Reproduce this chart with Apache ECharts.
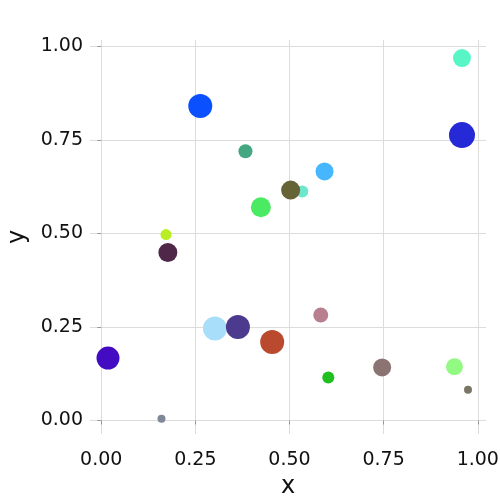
<!DOCTYPE html>
<html><head><meta charset="utf-8">
<script src="https://cdn.jsdelivr.net/npm/echarts@6/dist/echarts.min.js"></script>
<style>html,body{margin:0;padding:0;background:#fff}#c{width:500px;height:500px}</style>
</head><body><div id="c"></div>
<script>
const xs = [0.263,0.383,0.172,0.177,0.958,0.958,0.593,0.534,0.503,0.424,0.018,0.302,0.363,0.160,0.454,0.583,0.603,0.746,0.938,0.974];
const ys = [0.841,0.720,0.497,0.449,0.969,0.763,0.666,0.612,0.616,0.570,0.167,0.246,0.250,0.0045,0.210,0.282,0.115,0.142,0.144,0.082];
const sizes = [24,14,11,19,18,26,18,12,19,20,23,24,24,8,24,15,12,18,17,8];
const colors = ['#0a50ff','#43a882','#b8ee22','#4f2748','#58f6c6','#262ad6','#46b6ff','#6ee6cc','#666436','#4aea62','#430cc2','#a8def9','#4c3a8f','#7f8899','#ba4a2e','#b8808f','#1ebf1e','#8a7371','#92fa82','#7a7566'];
const tickValues = [0,0.25,0.5,0.75,1.0];
const tickLabels = ['0.00','0.25','0.50','0.75','1.00'];

const pad = (a,lo,hi)=>{const mn=Math.min(...a),mx=Math.max(...a),r=mx-mn;return [mn-lo*r,mx+hi*r];};
const [xmin,xmax]=pad(xs,0.05,0.05), [ymin,ymax]=pad(ys,0.042,0.05);
const data = xs.map((x,i)=>({value:[x,ys[i]],symbolSize:sizes[i],itemStyle:{color:colors[i]}}));
const fmt = v=>{const i=tickValues.findIndex(t=>Math.abs(t-v)<1e-9);return i>=0?tickLabels[i]:'';};
function axis(name,mn,mx,gap,rot,margin,offset){
  return {type:'value',min:mn,max:mx,name:name,nameLocation:'middle',nameGap:gap,nameRotate:rot,offset:offset,
    nameTextStyle:{fontFamily:'DejaVu Sans',fontSize:24,color:'#111'},
    axisLine:{show:false},
    axisTick:{show:true,length:4,lineStyle:{color:'#999'},customValues:tickValues},
    axisLabel:{fontFamily:'DejaVu Sans',fontSize:19,color:'#111',margin:margin,customValues:tickValues,formatter:fmt},
    splitLine:{show:true,lineStyle:{color:'#dcdcdc',width:1}}};
}
const chart = echarts.init(document.getElementById('c'),null,{renderer:'canvas'});
chart.setOption({
  animation:false,
  grid:{left:90,right:14,top:40,bottom:66,containLabel:false,outerBoundsMode:'none'},
  xAxis:axis('x',xmin,xmax,35,0,14,3),
  yAxis:axis('y',ymin,ymax,58,90,7,0),
  series:[{type:'scatter',data:data,symbol:'circle',itemStyle:{opacity:1}}]
});
</script></body></html>
